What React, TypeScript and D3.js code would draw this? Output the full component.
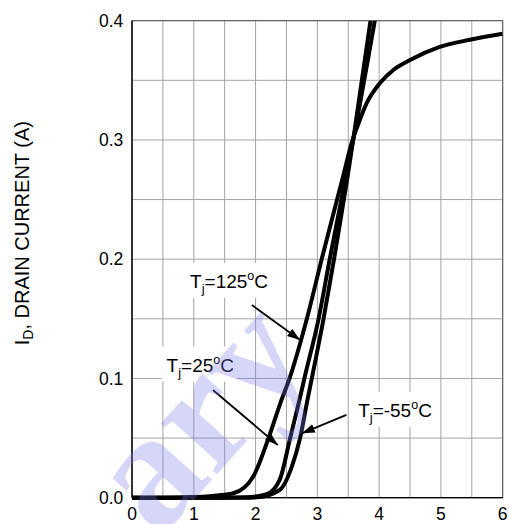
import React from 'react'
import * as d3 from 'd3'

// Transfer characteristics: drain current vs gate-source voltage at three junction temperatures
const W = 509
const H = 524
const margin = { top: 20.7, right: 6.3, bottom: 26.3, left: 132 }

const xTicks = [0, 1, 2, 3, 4, 5, 6]
const yTicks = [0, 0.1, 0.2, 0.3, 0.4]

// Tj = 125 C
const vgs125 = [0, 0.5, 1.0, 1.3, 1.64, 1.96, 2.21, 2.42, 2.55, 2.83, 3.07, 3.4, 3.57, 3.66, 3.8, 4.01, 4.23, 4.5, 4.98, 5.47, 6.0]
const id125 = [0, 0, 0.0005, 0.0015, 0.0037, 0.0176, 0.05, 0.082, 0.1, 0.15, 0.2, 0.266, 0.3, 0.313, 0.331, 0.3475, 0.3587, 0.367, 0.378, 0.384, 0.389]
// Tj = 25 C
const vgs25 = [0, 1.5, 1.85, 2.18, 2.39, 2.56, 2.71, 2.79, 3.02, 3.2, 3.45, 3.58, 3.93]
const id25 = [0, 0, 0.0003, 0.003, 0.015, 0.05, 0.082, 0.1, 0.15, 0.2, 0.266, 0.3, 0.4]
// Tj = -55 C
const vgs55 = [0, 1.8, 2.02, 2.39, 2.58, 2.72, 2.84, 2.91, 3.1, 3.27, 3.48, 3.58, 3.86]
const id55 = [0, 0, 0.0003, 0.0065, 0.025, 0.05, 0.082, 0.1, 0.15, 0.2, 0.266, 0.3, 0.4]

const series = [
  { key: 't125', vgs: vgs125, id: id125 },
  { key: 't25', vgs: vgs25, id: id25 },
  { key: 't55', vgs: vgs55, id: id55 },
]

// annotation text anchors and arrows, in data units
const labelTemps = ['125', '25', '-55']
const labelX = [0.94, 0.56, 3.66]
const labelY = [0.176, 0.1057, 0.0679]
const arrowFrom = [[1.94, 0.1616], [1.31, 0.0903], [3.47, 0.0694]]
const arrowTo = [[2.72, 0.1322], [2.36, 0.0442], [2.75, 0.054]]

const font = 'Arial, "Liberation Sans", Helvetica, sans-serif'

export default function App() {
  const width = W - margin.left - margin.right
  const height = H - margin.top - margin.bottom

  const x = d3.scaleLinear().domain([0, 6]).range([0, width])
  const y = d3.scaleLinear().domain([0, 0.4]).range([height, 0])

  const line = d3
    .line<[number, number]>()
    .x((d) => x(d[0]))
    .y((d) => y(d[1]))
    .curve(d3.curveMonotoneX)

  const xGrid = x.ticks(12)
  const yGrid = y.ticks(8)

  return (
    <svg
      width={W}
      height={H}
      style={{ position: 'absolute', left: 0, top: 0, background: '#fff' }}
      fontFamily={font}
    >
      <defs>
        {/* clip only the top, curves lying on zero keep their full width */}
        <clipPath id="plot-clip">
          <rect x={-4} y={0} width={width + 4} height={height + 6} />
        </clipPath>
        <marker
          id="arrow"
          markerUnits="userSpaceOnUse"
          markerWidth={14}
          markerHeight={10}
          refX={13}
          refY={4.5}
          orient="auto"
        >
          <path d="M0,0 L13,4.5 L0,9 Z" fill="#000" />
        </marker>
      </defs>

      <g transform={`translate(${margin.left},${margin.top})`}>
        {/* grid */}
        {xGrid.map((t) => (
          <line key={'gx' + t} x1={x(t)} x2={x(t)} y1={0} y2={height} stroke="#a3a3a3" strokeWidth={1} />
        ))}
        {yGrid.map((t) => (
          <line key={'gy' + t} x1={0} x2={width} y1={y(t)} y2={y(t)} stroke="#a3a3a3" strokeWidth={1} />
        ))}
        <rect x={0} y={0} width={width} height={height} fill="none" stroke="#555" strokeWidth={1} />
        <line x1={0} x2={0} y1={0} y2={height} stroke="#000" strokeWidth={1.3} />
        <line x1={0} x2={width} y1={height} y2={height} stroke="#000" strokeWidth={1.3} />

        {/* curves */}
        <g clipPath="url(#plot-clip)">
          {series.map((s) => (
            <path
              key={s.key}
              d={line(s.vgs.map((v, i) => [v, s.id[i]] as [number, number])) || ''}
              fill="none"
              stroke="#000"
              strokeWidth={4}
            />
          ))}
        </g>

        {/* x tick labels */}
        {xTicks.map((t) => (
          <text key={'xt' + t} x={x(t)} y={height + 22.5} textAnchor="middle" fontSize={17.5} fill="#000">
            {t}
          </text>
        ))}
        {/* y tick labels */}
        {yTicks.map((t) => (
          <text key={'yt' + t} x={-8.7} y={y(t) + 6.3} textAnchor="end" fontSize={17.5} fill="#000">
            {d3.format('.1f')(t)}
          </text>
        ))}

        {/* annotations */}
        {labelTemps.map((temp, i) => {
          const lx = x(labelX[i])
          const ly = y(labelY[i])
          const boxW = temp === '25' ? 75 : 86
          return (
            <g key={'lab' + temp}>
              <rect x={lx - 5} y={ly - 25} width={boxW} height={35} fill="#fff" />
              <text x={lx} y={ly} fontSize={19} fill="#000">
                T
                <tspan fontSize={13} dy={5}>j</tspan>
                <tspan dy={-5}>{'=' + temp}</tspan>
                <tspan fontSize={12.5} dy={-8}>o</tspan>
                <tspan dy={8}>C</tspan>
              </text>
            </g>
          )
        })}
        {arrowFrom.map((a, i) => (
          <line
            key={'ar' + i}
            x1={x(a[0])}
            y1={y(a[1])}
            x2={x(arrowTo[i][0])}
            y2={y(arrowTo[i][1])}
            stroke="#000"
            strokeWidth={1.8}
            markerEnd="url(#arrow)"
          />
        ))}
      </g>

      {/* y axis title */}
      <text
        transform={`translate(29,${margin.top + height / 2 - 26}) rotate(-90)`}
        textAnchor="middle"
        fontSize={20}
        fill="#000"
      >
        I<tspan fontSize={14} dy={4}>D</tspan>
        <tspan dy={-4}>, DRAIN CURRENT (A)</tspan>
      </text>

      {/* watermark, only its visible tail */}
      <text
        transform="translate(318,362) rotate(-48)"
        textAnchor="end"
        fontFamily='"Liberation Serif", "Times New Roman", serif'
        fontWeight="bold"
        fontSize={165}
        fill="#7b7bea"
        opacity={0.3}
      >
        ary
      </text>
    </svg>
  )
}
